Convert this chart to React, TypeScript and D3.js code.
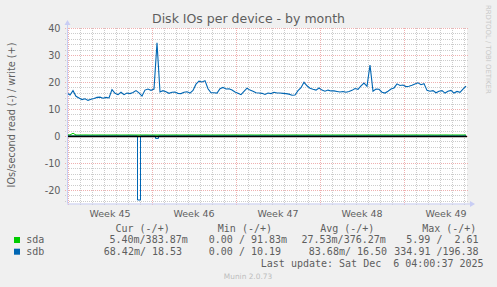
import React from "react";
import * as d3 from "d3";

// ---- data (RRD step: 6 hours) ----
const startTime = new Date(2025, 10, 2, 22, 0, 0);
const endTime = new Date(2025, 11, 6, 4, 0, 0);
const stepHours = 6;

// sdb write (+), IOs/second
const sdbWrite = [
  15.9, 15.2, 16.8, 14.7, 14.1, 13.5, 13.8, 13.2, 13.6, 13.9,
  14.3, 14.4, 14.0, 14.3, 14.1, 17.2, 15.8, 15.3, 16.2, 15.3,
  15.9, 15.7, 16.1, 16.8, 16.0, 14.8, 17.0, 17.4, 16.9, 17.4,
  34.5, 16.3, 16.8, 16.4, 15.8, 16.2, 16.3, 15.8, 15.7, 16.2,
  16.4, 15.9, 16.9, 19.2, 20.3, 20.0, 20.5, 17.5, 16.0, 16.0,
  15.9, 17.5, 18.0, 17.4, 17.5, 17.0, 16.3, 15.8, 15.3, 16.5,
  17.7, 17.0, 16.6, 16.0, 15.9, 15.8, 15.4, 15.9, 15.7, 16.2,
  15.9, 15.9, 15.8, 15.7, 15.5, 15.1, 15.2, 16.8, 17.9, 19.9,
  18.6, 17.7, 17.3, 17.0, 17.8, 17.0, 16.6, 17.0, 16.7, 16.7,
  16.5, 16.3, 16.5, 16.2, 16.5, 16.9, 17.6, 17.3, 18.6, 19.6,
  18.4, 26.3, 16.6, 17.4, 17.3, 16.2, 15.9, 16.6, 17.4, 17.8,
  19.3, 18.7, 18.9, 18.3, 18.4, 18.8, 19.3, 19.7, 19.0, 19.4,
  16.9, 16.6, 16.8, 16.0, 16.6, 16.8, 15.9, 16.6, 16.9, 15.9,
  16.5, 16.2, 17.4, 18.5,
];

// sdb read (-)
const sdbRead = [
  0, 0, 0, 0, 0, 0, 0, 0, 0, 0,
  0, 0, 0, 0, 0, 0, 0, 0, 0, 0,
  0, 0, 0, 0, -23.7, 0, 0, 0, 0, 0,
  -0.9, 0, 0, 0, 0, 0, 0, 0, 0, 0,
  0, 0, 0, 0, 0, 0, 0, 0, 0, 0,
  0, 0, 0, 0, 0, 0, 0, 0, 0, 0,
  0, 0, 0, 0, 0, 0, 0, 0, 0, 0,
  0, 0, 0, 0, 0, 0, 0, 0, 0, 0,
  0, 0, 0, 0, 0, 0, 0, 0, 0, 0,
  0, 0, 0, 0, 0, 0, 0, 0, 0, 0,
  0, 0, 0, 0, 0, 0, 0, 0, 0, 0,
  0, 0, 0, 0, 0, 0, 0, 0, 0, 0,
  0, 0, 0, 0, 0, 0, 0, 0, 0, 0,
  0, 0, 0, 0,
];

// sda write (+)
const sdaWrite = [
  0.38, 0.40, 1.0, 0.38, 0.37, 0.38, 0.39, 0.38, 0.37, 0.38,
  0.38, 0.39, 0.38, 0.37, 0.38, 0.38, 0.39, 0.38, 0.37, 0.38,
  0.38, 0.39, 0.38, 0.37, 0.38, 0.38, 0.39, 0.38, 0.37, 0.38,
  0.38, 0.39, 0.38, 0.37, 0.38, 0.38, 0.39, 0.38, 0.37, 0.38,
  0.38, 0.39, 0.38, 0.37, 0.38, 0.38, 0.39, 0.38, 0.37, 0.38,
  0.38, 0.39, 0.38, 0.37, 0.38, 0.38, 0.39, 0.38, 0.37, 0.38,
  0.38, 0.39, 0.38, 0.37, 0.38, 0.38, 0.39, 0.38, 0.37, 0.38,
  0.38, 0.39, 0.38, 0.37, 0.38, 0.38, 0.39, 0.38, 0.37, 0.38,
  0.38, 0.39, 0.38, 0.37, 0.38, 0.38, 0.39, 0.38, 0.37, 0.38,
  0.38, 0.39, 0.38, 0.37, 0.38, 0.38, 0.39, 0.38, 0.37, 0.38,
  0.38, 0.39, 0.38, 0.37, 0.38, 0.38, 0.39, 0.38, 0.37, 0.38,
  0.38, 0.39, 0.38, 0.37, 0.38, 0.38, 0.39, 0.38, 0.37, 0.38,
  0.38, 0.39, 0.38, 0.37, 0.38, 0.38, 0.39, 0.38, 0.37, 0.38,
  0.38, 0.38, 0.38, 0.38,
];

// sda read (-)
const sdaRead = [
  -0.03, -0.03, -0.03, -0.03, -0.03, -0.03, -0.03, -0.03, -0.03, -0.03,
  -0.03, -0.03, -0.03, -0.03, -0.03, -0.03, -0.03, -0.03, -0.03, -0.03,
  -0.03, -0.03, -0.03, -0.03, -0.03, -0.03, -0.03, -0.03, -0.03, -0.03,
  -0.03, -0.03, -0.03, -0.03, -0.03, -0.03, -0.03, -0.03, -0.03, -0.03,
  -0.03, -0.03, -0.03, -0.03, -0.03, -0.03, -0.03, -0.03, -0.03, -0.03,
  -0.03, -0.03, -0.03, -0.03, -0.03, -0.03, -0.03, -0.03, -0.03, -0.03,
  -0.03, -0.03, -0.03, -0.03, -0.03, -0.03, -0.03, -0.03, -0.03, -0.03,
  -0.03, -0.03, -0.03, -0.03, -0.03, -0.03, -0.03, -0.03, -0.03, -0.03,
  -0.03, -0.03, -0.03, -0.03, -0.03, -0.03, -0.03, -0.03, -0.03, -0.03,
  -0.03, -0.03, -0.03, -0.03, -0.03, -0.03, -0.03, -0.03, -0.03, -0.03,
  -0.03, -0.03, -0.03, -0.03, -0.03, -0.03, -0.03, -0.03, -0.03, -0.03,
  -0.03, -0.03, -0.03, -0.03, -0.03, -0.03, -0.03, -0.03, -0.03, -0.03,
  -0.03, -0.03, -0.03, -0.03, -0.03, -0.03, -0.03, -0.03, -0.03, -0.03,
  -0.03, -0.03, -0.03, -0.03,
];

const yMajorTicks = [-20, -10, 0, 10, 20, 30, 40];
const yDomain = [-25, 40];

const title = "Disk IOs per device - by month";
const yAxisTitle = "IOs/second read (-) / write (+)";
const seriesNames = ["sda", "sdb"];
const seriesColors = ["#00cc00", "#0066b3"];
const legendHeaders = ["Cur (-/+)", "Min (-/+)", "Avg (-/+)", "Max (-/+)"];
const sdaStats = ["5.40m/383.87m", "0.00 / 91.83m", "27.53m/376.27m", "5.99 /  2.61"];
const sdbStats = ["68.42m/ 18.53", "0.00 / 10.19", "83.68m/ 16.50", "334.91 /196.38"];
const lastUpdate = "Last update: Sat Dec  6 04:00:37 2025";
const muninVersion = "Munin 2.0.73";
const rrdWatermark = "RRDTOOL / TOBI OETIKER";

// ---- layout ----
const W = 497;
const H = 287;
const PL = 67;
const PR = 466;
const PT = 28;
const PB = 203.5;

const sansFont = "'DejaVu Sans', Verdana, sans-serif";
const monoFont = "'DejaVu Sans Mono', monospace";
const fontColor = "#5e5e5e";
const axisColor = "#c8cdf4";
const minorGrid = "#cccccc";
const majorGrid = "#efb0b0";

const headerX = [115.5, 217.8, 320.2, 422.2];
const sdaX = [109.5, 208.8, 301.5, 406.3];
const sdbX = [103.8, 208.8, 308.8, 394.3];

export default function App() {
  const x = d3.scaleTime().domain([startTime, endTime]).range([PL, PR]);
  const y = d3.scaleLinear().domain(yDomain).range([PB, PT]);
  const times = sdbWrite.map(
    (_, i) => new Date(startTime.getTime() + i * stepHours * 3600 * 1000)
  );

  const line = d3
    .line<number>()
    .x((_, i) => x(times[i]))
    .y((d) => y(d));
  const stepLine = d3
    .line<number>()
    .x((_, i) => x(times[i]))
    .y((d) => y(d))
    .curve(d3.curveStep);

  const yMinor = d3.range(yDomain[0] + 1, yDomain[1] + 1, 2).filter((v) => v % 10 !== 0);
  const days = d3.timeDay.range(startTime, endTime);
  const mondays = d3.timeMonday.range(startTime, endTime);
  const weekFmt = d3.timeFormat("%V");

  const L = PL - 2;
  const R = PR + 3;

  return (
    <svg
      width={W}
      height={H}
      style={{ position: "fixed", left: 0, top: 0, display: "block" }}
    >
      <rect x={0} y={0} width={W} height={H} fill="#f0f0f0" />
      <rect x={PL} y={PT} width={PR - PL + 1} height={PB - PT} fill="#ffffff" />

      {/* minor horizontal grid */}
      {yMinor.map((v) => (
        <line
          key={"hm" + v}
          x1={L}
          x2={R}
          y1={Math.round(y(v)) + 0.5}
          y2={Math.round(y(v)) + 0.5}
          stroke={minorGrid}
          strokeDasharray="1,1"
        />
      ))}
      {/* minor vertical grid (days) */}
      {days
        .filter((d) => d.getDay() !== 1)
        .map((d) => (
          <line
            key={"vm" + d.getTime()}
            x1={Math.round(x(d)) + 0.5}
            x2={Math.round(x(d)) + 0.5}
            y1={PT}
            y2={PB + 2.5}
            stroke={minorGrid}
            strokeDasharray="1,1"
          />
        ))}
      {/* major horizontal grid */}
      {yMajorTicks.map((v) => (
        <line
          key={"hM" + v}
          x1={L}
          x2={R}
          y1={Math.round(y(v)) + 0.5}
          y2={Math.round(y(v)) + 0.5}
          stroke={majorGrid}
          strokeDasharray="1,1"
        />
      ))}
      {/* major vertical grid (weeks) */}
      {mondays.map((d) => (
        <line
          key={"vM" + d.getTime()}
          x1={Math.round(x(d)) + 0.5}
          x2={Math.round(x(d)) + 0.5}
          y1={PT}
          y2={PB + 2.5}
          stroke={majorGrid}
          strokeDasharray="1,1"
        />
      ))}

      {/* series */}
      <path d={stepLine(sdaRead) || ""} fill="none" stroke={seriesColors[0]} strokeWidth={1} />
      <path d={line(sdaWrite) || ""} fill="none" stroke={seriesColors[0]} strokeWidth={1} />
      <path d={stepLine(sdbRead) || ""} fill="none" stroke={seriesColors[1]} strokeWidth={1} />
      <path d={line(sdbWrite) || ""} fill="none" stroke={seriesColors[1]} strokeWidth={1.1} />

      {/* zero rule */}
      <line x1={PL} x2={PR + 1} y1={y(0) + 0.5} y2={y(0) + 0.5} stroke="#000" strokeWidth={1.6} />

      {/* axes */}
      <line x1={PL + 0.5} x2={PL + 0.5} y1={PB} y2={PT - 4} stroke={axisColor} />
      <path d={`M${PL - 2.5},${PT - 3} L${PL + 3.5},${PT - 3} L${PL + 0.5},${PT - 8} Z`} fill={axisColor} />
      <line x1={PL} x2={R + 1} y1={PB + 0.5} y2={PB + 0.5} stroke={axisColor} />
      <path d={`M${R + 1},${PB - 2.5} L${R + 1},${PB + 3.5} L${R + 6},${PB + 0.5} Z`} fill={axisColor} />

      {/* y tick labels */}
      {yMajorTicks.map((v) => (
        <text
          key={"yl" + v}
          x={60.5}
          y={y(v) + 3.6}
          textAnchor="end"
          fontFamily={sansFont}
          fontSize={9.7}
          fill={fontColor}
        >
          {v}
        </text>
      ))}

      {/* x week labels */}
      {mondays.map((d) => {
        const mid = d3.timeHour.offset(d, 84);
        return (
          <text
            key={"xl" + d.getTime()}
            x={x(mid)}
            y={216.5}
            textAnchor="middle"
            fontFamily={sansFont}
            fontSize={9.5}
            fill={fontColor}
          >
            {"Week " + weekFmt(d)}
          </text>
        );
      })}

      {/* title */}
      <text
        x={248.5}
        y={23}
        textAnchor="middle"
        fontFamily={sansFont}
        fontSize={12.5}
        fill={fontColor}
      >
        {title}
      </text>

      {/* y axis title */}
      <text
        transform={`translate(14.5, 115) rotate(-90)`}
        textAnchor="middle"
        fontFamily={sansFont}
        fontSize={9.7}
        fill={fontColor}
      >
        {yAxisTitle}
      </text>

      {/* rrdtool watermark */}
      <text
        transform={`translate(486, 5) rotate(90)`}
        textAnchor="start"
        fontFamily={sansFont}
        fontSize={6.9}
        fill="#c8c8c8"
      >
        {rrdWatermark}
      </text>

      {/* legend */}
      {legendHeaders.map((h, i) => (
        <text
          key={"lh" + i}
          x={headerX[i]}
          y={231.5}
          fontFamily={monoFont}
          fontSize={10}
          fill={fontColor}
          style={{ whiteSpace: "pre" }}
        >
          {h}
        </text>
      ))}
      {[sdaStats, sdbStats].map((stats, r) => {
        const yy = 243.3 + r * 11.7;
        const xs = r === 0 ? sdaX : sdbX;
        return (
          <g key={"row" + r}>
            <rect x={14} y={yy - 6.3} width={6} height={6} fill={seriesColors[r]} />
            <text x={26.2} y={yy} fontFamily={monoFont} fontSize={10} fill={fontColor}>
              {seriesNames[r]}
            </text>
            {stats.map((s, i) => (
              <text
                key={i}
                x={xs[i]}
                y={yy}
                fontFamily={monoFont}
                fontSize={10}
                fill={fontColor}
                style={{ whiteSpace: "pre" }}
              >
                {s}
              </text>
            ))}
          </g>
        );
      })}
      <text
        x={260.8}
        y={266.6}
        fontFamily={monoFont}
        fontSize={10}
        fill={fontColor}
        style={{ whiteSpace: "pre" }}
      >
        {lastUpdate}
      </text>
      <text
        x={248}
        y={279}
        textAnchor="middle"
        fontFamily={sansFont}
        fontSize={7.4}
        fill="#bdbdbd"
      >
        {muninVersion}
      </text>
    </svg>
  );
}
